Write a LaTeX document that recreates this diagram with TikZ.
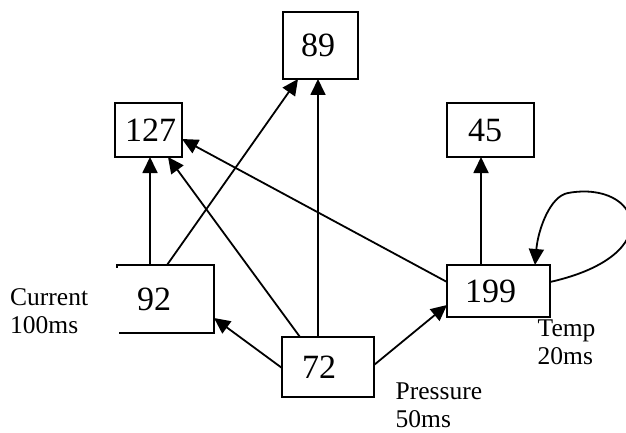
\documentclass[tikz,border=0pt]{standalone}
\usepackage{fontspec}
\setmainfont{Liberation Serif}
\usetikzlibrary{arrows.meta}
\begin{document}
\begin{tikzpicture}[x=1pt,y=-1pt,
  box/.style={draw, line width=1.8pt, font=\fontsize{34}{40}\selectfont, align=left, inner ysep=0pt, outer sep=0pt},
  arr/.style={line width=1.8pt, -{Triangle[length=16pt,width=15pt]}},
  lbl/.style={font=\fontsize{25.5}{28}\selectfont, align=left, inner sep=0pt}]
\useasboundingbox (0,0) rectangle (626,433);
% boxes
\node[box, minimum height=67pt, inner xsep=18pt, text width=39pt] (b89) at (320.5,45.5) {89};
\node[box, minimum height=54pt, inner xsep=10pt, text width=47pt] (b127) at (148.5,130) {127};
\node[box, minimum height=54pt, inner xsep=21pt, text width=45pt] (b45) at (490.5,130) {45};
\node[box, minimum height=52pt, inner xsep=18pt, text width=67pt] (b199) at (498.5,291) {199};
\node[box, minimum height=68pt, inner xsep=20pt, text width=57pt] (b92) at (165.5,299) {92};
\node[box, minimum height=60pt, inner xsep=20pt, text width=52pt] (b72) at (328,367) {72};
\coordinate (looptop) at (568,193);
% connectors
\draw[arr] ([xshift=-15.5pt]b92.north) -- ([xshift=1.5pt]b127.south);
\draw[arr] ([xshift=1.5pt]b92.north) -- ([xshift=-22.5pt]b89.south);
\draw[arr] ([xshift=-28pt]b72.north) -- ([xshift=19.5pt]b127.south);
\draw[arr] ([xshift=-10pt]b72.north) -- ([xshift=-2.5pt]b89.south);
\draw[arr] ([yshift=-1pt]b72.west) -- ([yshift=-19pt]b92.east);
\draw[arr] ([yshift=2pt]b72.east) -- ([yshift=-14pt]b199.west);
\draw[arr] ([yshift=9pt]b199.west) -- ([yshift=-9pt]b127.east);
\draw[arr] ([xshift=-17.5pt]b199.north) -- ([xshift=-9.5pt]b45.south);
\draw[arr] ([yshift=9pt]b199.east) .. controls +(120,-27) and +(72,-13) .. (looptop)
  .. controls +(-18,3) and +(3,-35) .. ([xshift=36.5pt]b199.north);
% labels
\node[lbl, fill=white, anchor=north west, text width=107pt, inner xsep=2pt, inner ysep=20pt] (lcur) at (8,268) {Current\\100ms};
\node[lbl, anchor=west] (lpre) at (395.5,405) {Pressure\\50ms};
\node[lbl, anchor=west] (ltemp) at (537.5,342) {Temp\\20ms};
\end{tikzpicture}
\end{document}
